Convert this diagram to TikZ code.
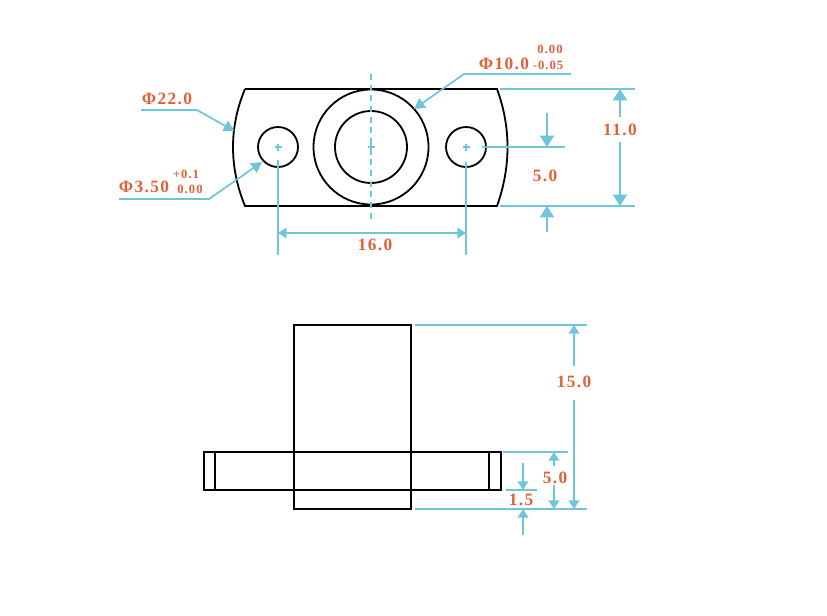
\documentclass[tikz,border=0pt]{standalone}
\usepackage{fontspec}
\setmainfont[LetterSpace=8]{Liberation Serif}
\usetikzlibrary{arrows.meta}
\definecolor{dimcyan}{HTML}{6EC6D8}
\definecolor{dimred}{HTML}{E0603A}

\begin{document}
\begin{tikzpicture}[x=0.75pt, y=-0.75pt] %px of the reference
	\tikzstyle{part} = [draw=black, line width=1.35pt]
	\tikzstyle{thinpart} = [draw=black, line width=1.2pt]
	\tikzstyle{dimline} = [draw=dimcyan, line width=1.3pt]
	\tikzstyle{bigtip} = [dimline, -{Triangle[length=8.5pt, width=10.5pt]}]
	\tikzstyle{smalltip} = [dimline, -{Triangle[length=6.5pt, width=8pt]}]
	\tikzstyle{dimtext} = [text=dimred, font=\bfseries\fontsize{13}{13}\selectfont, inner sep=0pt]
	\tikzstyle{toltext} = [text=dimred, font=\bfseries\fontsize{9.5}{9.5}\selectfont, inner sep=0pt]
	\useasboundingbox (0,0) rectangle (827,615);

	% top view
	\coordinate (TL) at (245,89);
	\coordinate (TR) at (497,89);
	\coordinate (BL) at (245,206);
	\coordinate (BR) at (497,206);
	\draw[part] (TL) -- (TR) .. controls (511,127) and (511,167) .. (BR) -- (BL) .. controls (229,167) and (229,127) .. (TL);
	\foreach \name/\x/\r in {HoleL/278/20, HoleR/466/20, Bore/371/36, Boss/371/57.5}
	{
		\coordinate (\name) at (\x,147);
		\draw[part] (\name) circle (\r);
		\draw[dimline, line width=1pt] (\x-3.5,147) -- (\x+3.5,147) (\x,143.5) -- (\x,150.5);
	}
	\coordinate (AxisTop) at (371,74);
	\coordinate (AxisBot) at (371,220);
	\draw[dimline, dash pattern=on 4.5pt off 3.5pt] (AxisTop) -- (AxisBot);

	% side view
	\node[part, minimum width=87.75pt, minimum height=138pt, inner sep=0pt] (Body) at (352.5,417) {};
	\node[part, minimum width=222.75pt, minimum height=28.5pt, inner sep=0pt] (Flange) at (352.5,471) {};
	\foreach \x in {215, 489}
		\draw[thinpart] (\x,452) -- (\x,490);

	% extension lines
	\foreach \a/\b/\c/\d in {500/89/635/89, 500/206/635/206, 482/147/565/147, 278/160/278/255, 466/162/466/255, 415/325/587/325, 503/452/568/452, 506/490/537/490, 415/509/587/509}
		\draw[dimline] (\a,\b) -- (\c,\d);

	% dimension arrows
	\foreach \a/\b/\c/\d in {620/117/620/89, 620/142/620/206, 547/113/547/147, 547/232/547/206}
		\draw[bigtip] (\a,\b) -- (\c,\d);
	\foreach \a/\b/\c/\d in {574/366/574/325, 574/400/574/509, 554/466/554/452, 554/485/554/509, 523/463/523/490, 523/535/523/509}
		\draw[smalltip] (\a,\b) -- (\c,\d);
	\draw[smalltip, {Triangle[length=6.5pt, width=8pt]}-{Triangle[length=6.5pt, width=8pt]}] (278,233) -- (466,233);

	% leaders
	\draw[bigtip, -{Triangle[length=8pt, width=8.5pt]}] (141,110) -- (197,110) -- (234.5,131);
	\draw[bigtip, -{Triangle[length=8pt, width=8.5pt]}] (119,199) -- (209,199) -- (262,162);
	\draw[bigtip, -{Triangle[length=8pt, width=8.5pt]}] (571,74) -- (464,74) -- (414,109);

	% labels
	\foreach \name/\x/\y/\val in {dA/167/98.5/Φ22.0, dB/144/186.5/Φ3.50, dC/504/63.5/Φ10.0, lA/375/244.5/16.0, lB/620/129.5/11.0, lC/545/175.5/5.0, lD/574/381.5/15.0, lE/555/477.5/5.0, lF/521/499.5/1.5}
		\node[dimtext] (\name) at (\x,\y) {\val};
	\foreach \name/\x/\y/\val in {tA/186/174/+0.1, tB/190/189/0.00, tC/550/49/0.00, tD/548/65/-0.05}
		\node[toltext] (\name) at (\x,\y) {\val};
\end{tikzpicture}
\end{document}
